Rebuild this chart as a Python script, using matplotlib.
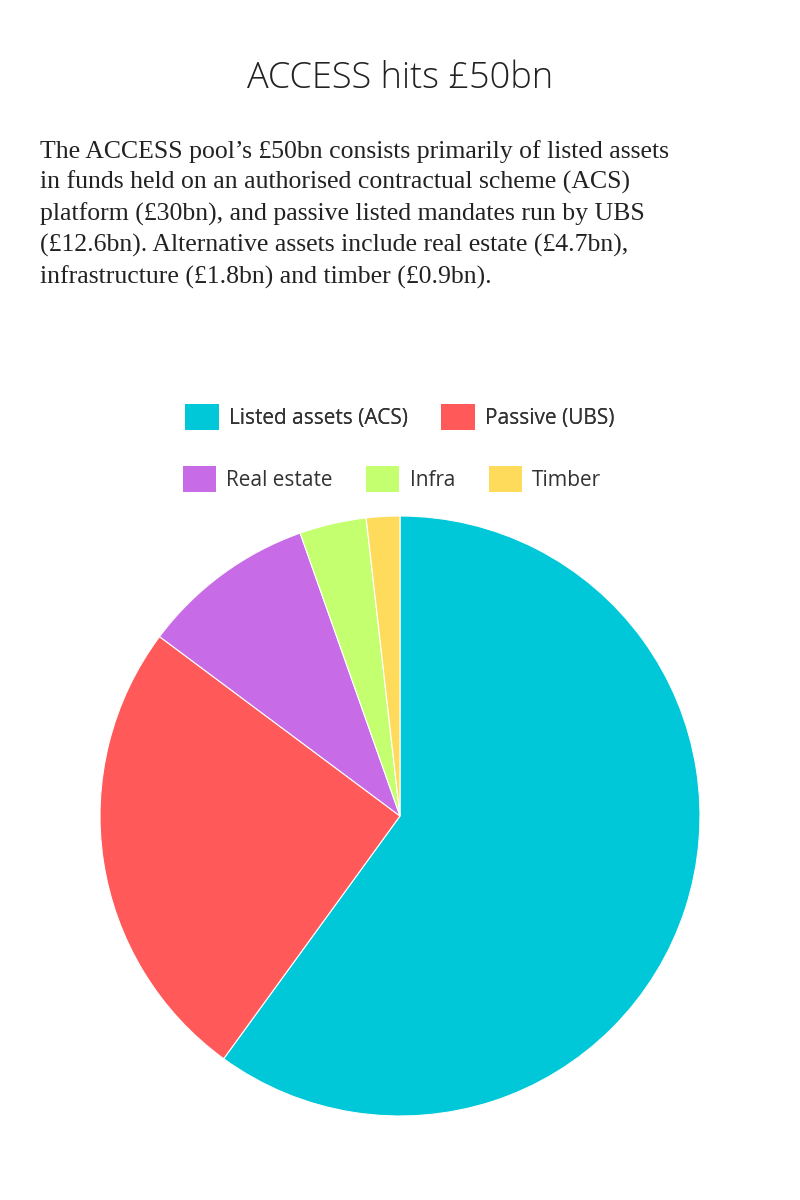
import matplotlib.pyplot as plt
from matplotlib.patches import Patch

categories = ['Listed assets (ACS)', 'Passive (UBS)', 'Real estate', 'Infra', 'Timber']
values = [30, 12.6, 4.7, 1.8, 0.9]
colors = ['#00C8D8', '#FF5959', '#C86BE6', '#C3FF6F', '#FFDB5C']

title = 'ACCESS hits £50bn'
body = ("The ACCESS pool’s £50bn consists primarily of listed assets\n"
        "in funds held on an authorised contractual scheme (ACS)\n"
        "platform (£30bn), and passive listed mandates run by UBS\n"
        "(£12.6bn). Alternative assets include real estate (£4.7bn),\n"
        "infrastructure (£1.8bn) and timber (£0.9bn).")

fig = plt.figure(figsize=(8, 12), dpi=100)
fig.text(0.5, 1 - 78 / 1200, title, ha='center', va='center',
         fontsize=26, color='#222222', family='Open Sans', fontweight='light')
fig.text(0.05, 1 - 140 / 1200, body, ha='left', va='top', fontsize=18.5,
         color='#222222', family='Liberation Serif', linespacing=1.45)

ax = fig.add_axes([0.125, 0.07, 0.75, 0.5])
ax.pie(values, colors=colors, startangle=90, counterclock=False,
       wedgeprops=dict(linewidth=0.8, edgecolor='white'))
ax.set_xlim(-1, 1)
ax.set_ylim(-1, 1)
ax.set_aspect('equal')

handles = [Patch(facecolor=c, edgecolor='none') for c in colors]
leg_kw = dict(frameon=False, handlelength=1.6, handleheight=1.6,
              handletextpad=0.5, columnspacing=1.6,
              prop={'family': 'Open Sans', 'size': 15})
leg1 = fig.legend(handles[:2], categories[:2], ncol=2, loc='center',
                  bbox_to_anchor=(0.5, 1 - 417 / 1200), **leg_kw)
for t in leg1.get_texts():
    t.set_color('#333333')
fig.add_artist(leg1)
leg2 = fig.legend(handles[2:], categories[2:], ncol=3, loc='center',
                  bbox_to_anchor=(0.49, 1 - 479 / 1200), **leg_kw)
for t in leg2.get_texts():
    t.set_color('#333333')

fig.savefig('out.png', dpi=100, facecolor='white')
